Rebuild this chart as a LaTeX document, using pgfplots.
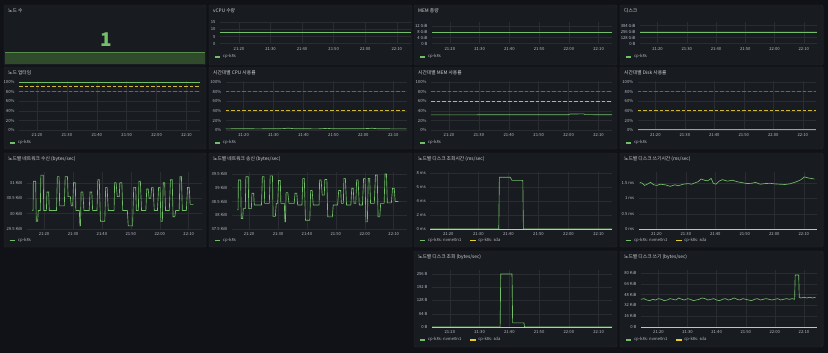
\documentclass[border=0pt]{standalone}
\usepackage{fontspec}
\setmainfont{Noto Sans CJK KR}
\usepackage{pgfplots}
\pgfplotsset{compat=1.18}

\definecolor{pagebg}{RGB}{17,18,23}
\definecolor{panelbg}{RGB}{24,27,31}
\definecolor{panelbd}{RGB}{38,40,46}
\definecolor{titlec}{RGB}{210,210,222}
\definecolor{tickc}{RGB}{185,186,200}
\definecolor{gridc}{RGB}{42,44,50}
\definecolor{gfgreen}{RGB}{115,191,105}
\definecolor{gfyellow}{RGB}{230,205,45}
\definecolor{thresred}{RGB}{205,55,78}
\definecolor{thresyel}{RGB}{205,185,55}
\definecolor{sparkfill}{RGB}{48,74,44}
\definecolor{sparkline}{RGB}{86,140,76}

\newcommand\tsz{\fontsize{4.8}{5.5}\selectfont}
\newcommand\ksz{\fontsize{4.2}{5}\selectfont}

\pgfplotsset{
 gp/.style={
  scale only axis, anchor=north west, clip=false,
  xmin=14, xmax=74.5,
  axis line style={draw=none},
  major tick length=0pt,
  grid=major,
  grid style={draw=gridc, line width=0.45bp},
  xtick={20,30,40,50,60,70},
  xticklabels={21:20,21:30,21:40,21:50,22:00,22:10},
  ticklabel style={font=\ksz, text=tickc},
  xticklabel style={anchor=center, yshift=-5bp},
  yticklabel style={anchor=east, xshift=-1bp},
  legend columns=-1,
  legend cell align=left,
  legend image code/.code={\draw[##1, line width=1.5bp, solid] (0bp,0bp) -- (5.5bp,0bp);},
  legend style={draw=none, fill=none, font=\ksz, text=tickc, at={(0,0)}, anchor=west,
    inner sep=0pt, outer sep=0pt, /tikz/every even column/.append style={column sep=6bp}},
 },
 dl/.style={color=gfgreen, line width=0.65bp},
 yl/.style={color=gfyellow, line width=0.7bp},
 thr/.style={draw=thresred, line width=1bp, dash pattern=on 3.5bp off 2bp},
 thy/.style={draw=thresyel, line width=1bp, dash pattern=on 3.5bp off 2bp},
 pct/.style={ymin=0, ymax=101.5, ytick={0,20,40,60,80,100},
   yticklabels={0\%,20\%,40\%,60\%,80\%,100\%}},
}

\newcommand\panel[5]{%
  \fill[panelbg, draw=panelbd, line width=0.5, rounded corners=1.5] (#1,#2) rectangle (#3,#4);
  \node[anchor=west, font=\tsz, text=titlec, inner sep=0pt] at (#1+4,#2+6) {#5};}

\begin{document}
\begin{tikzpicture}
\begin{scope}[x=1bp,y=-1bp]
\fill[pagebg] (0,0) rectangle (828,353);
\panel{4}{5}{206}{65}{노드 수}
\panel{209}{5}{412}{65}{vCPU 수량}
\panel{414}{5}{617}{65}{MEM 총량}
\panel{620}{5}{823}{65}{디스크}
\panel{4}{67}{206}{149}{노드 업타임}
\panel{209}{67}{412}{149}{시간대별 CPU 사용률}
\panel{414}{67}{617}{149}{시간대별 MEM 사용률}
\panel{620}{67}{823}{149}{시간대별 Disk 사용률}
\panel{4}{153}{206}{247}{노드별 네트워크 수신 (bytes/sec)}
\panel{209}{153}{412}{247}{노드별 네트워크 송신 (bytes/sec)}
\panel{414}{153}{617}{247}{노드별 디스크 조회시간 (ms/sec)}
\panel{620}{153}{823}{247}{노드별 디스크 쓰기시간 (ms/sec)}
\panel{414}{251}{617}{347}{노드별 디스크 조회 (bytes/sec)}
\panel{620}{251}{823}{347}{노드별 디스크 쓰기 (bytes/sec)}
\node[font=\fontsize{19}{20}\selectfont\bfseries, text=gfgreen] at (106,40) {1};
\end{scope}

% stat sparkline
\begin{axis}[at={(5bp,-51.7bp)}, anchor=north west, scale only axis, width=200bp, height=12.6bp,
  xmin=14, xmax=74.5, ymin=0, ymax=1.02, hide axis, clip=false]
\addplot[draw=none, fill=sparkfill] coordinates {(14,1)(74.5,1)} \closedcycle;
\addplot[color=sparkline, line width=0.7bp] coordinates {(14,1)(74.5,1)};
\end{axis}

% vCPU
\begin{axis}[gp, at={(220bp,-22.3bp)}, width=191bp, height=21.4bp, ymin=0, ymax=15,
  ytick={0,5,10,15}, yticklabels={0,5,10,15}, legend style={xshift=-6bp, yshift=-13.3bp}]
\addplot[dl] coordinates {(14,8)(74.5,8)};
\legend{cp-k8s}
\end{axis}

% MEM total
\begin{axis}[gp, at={(432bp,-22.3bp)}, width=180bp, height=21.4bp, ymin=0, ymax=14.3,
  ytick={0,4,8,12}, yticklabels={0 B,4 GiB,8 GiB,12 GiB}, legend style={xshift=-13bp, yshift=-13.3bp}]
\addplot[dl] coordinates {(14,7.7)(74.5,7.7)};
\legend{cp-k8s}
\end{axis}

% Disk total
\begin{axis}[gp, at={(640bp,-22.3bp)}, width=177bp, height=21.4bp, ymin=0, ymax=456,
  ytick={0,128,256,384}, yticklabels={0 B,128 GiB,256 GiB,384 GiB}, legend style={xshift=-15bp, yshift=-13.3bp}]
\addplot[dl] coordinates {(14,245)(74.5,245)};
\legend{cp-k8s}
\end{axis}

% uptime
\begin{axis}[gp, pct, at={(19bp,-81.3bp)}, width=181bp, height=49bp, legend style={xshift=-10bp, yshift=-12.7bp}]
\addplot[thr, forget plot] coordinates {(14,80)(74.5,80)};
\addplot[thy, forget plot] coordinates {(14,90)(74.5,90)};
\addplot[dl] coordinates {(14,99.6)(74.5,99.6)};
\legend{cp-k8s}
\end{axis}

% CPU usage
\begin{axis}[gp, pct, at={(225.7bp,-81.3bp)}, width=181bp, height=49bp, legend style={xshift=-11.7bp, yshift=-12.7bp}]
\addplot[thr, forget plot] coordinates {(14,80)(74.5,80)};
\addplot[thy, forget plot] coordinates {(14,40)(74.5,40)};
\addplot[dl] coordinates {(14,3)(20,3.2)(25,3)(33,3.4)(35,4.4)(37,3.2)(45,3)(48,4)(50,3.1)(60,3.3)(63,4.2)(65,3.1)(74.5,3)};
\legend{cp-k8s}
\end{axis}

% MEM usage
\begin{axis}[gp, pct, at={(431bp,-81.3bp)}, width=181bp, height=49bp, legend style={xshift=-12bp, yshift=-12.7bp}]
\addplot[thr, forget plot] coordinates {(14,80)(74.5,80)};
\addplot[thy, forget plot] coordinates {(14,60)(74.5,60)};
\addplot[dl] coordinates {(14,32)(40,32.1)(60,32.2)(60.5,33.8)(65,34)(65.5,32.4)(74.5,32.3)};
\legend{cp-k8s}
\end{axis}

% Disk usage
\begin{axis}[gp, pct, at={(637.7bp,-81.3bp)}, width=178.3bp, height=49bp, legend style={xshift=-12.7bp, yshift=-12.7bp}]
\addplot[thr, forget plot] coordinates {(14,80)(74.5,80)};
\addplot[thy, forget plot] coordinates {(14,40)(74.5,40)};
\addplot[dl] coordinates {(14,1.2)(74.5,1.2)};
\legend{cp-k8s}
\end{axis}

% network receive
\begin{axis}[gp, at={(26.7bp,-172bp)}, width=175bp, height=57bp, ymin=29.5, ymax=31.35,
  ytick={29.5,30,30.5,31}, yticklabels={29.5 KiB,30 KiB,30.5 KiB,31 KiB},
  legend style={xshift=-17.7bp, yshift=-11.7bp}]
\addplot[dl] coordinates {
(16.0,30.1)(16.2,30.1)(16.3,31.05)(17.1,31.05)(17.3,29.75)(17.8,29.75)(18.0,30.1)(18.7,30.1)
(18.9,31.25)(19.7,31.25)(19.9,30.1)(20.8,30.1)(21.0,30.7)(21.6,30.7)(21.8,30.1)(24.3,30.1)
(24.6,31.2)(25.2,31.2)(25.4,30.25)(27.0,30.25)(27.3,31.2)(28.1,31.2)(28.3,30.55)(29.1,30.55)
(29.4,30.25)(29.9,30.25)(30.2,31.0)(30.8,31.0)(31.0,30.1)(32.2,30.1)(32.4,29.6)(32.6,29.6)
(32.8,30.7)(33.4,30.7)(33.8,30.1)(35.6,30.1)(35.9,30.7)(36.5,30.7)(36.8,30.1)(38.3,30.1)
(38.6,31.1)(39.1,31.1)(39.5,29.75)(41.0,29.75)(41.3,30.85)(41.8,30.85)(42.2,30.1)(44.2,30.1)
(44.4,31.0)(44.9,31.0)(45.3,30.55)(46.0,30.55)(46.2,31.0)(46.9,31.0)(47.2,30.1)(48.8,30.1)
(49.1,29.6)(50.6,29.6)(51.0,30.85)(51.7,30.85)(51.9,30.1)(52.6,30.1)(52.8,31.05)(53.3,31.05)
(53.7,30.1)(55.2,30.1)(55.5,30.8)(56.0,30.8)(56.3,30.5)(56.9,30.5)(57.2,30.85)(57.7,30.85)
(58.1,30.1)(59.2,30.1)(59.6,30.85)(60.1,30.85)(60.4,29.75)(60.9,29.75)(61.2,31.0)(61.7,31.0)
(62.0,30.1)(63.3,30.1)(63.7,31.1)(64.3,31.1)(64.6,29.9)(65.2,29.9)(65.5,30.1)(66.7,30.1)
(67.0,31.2)(67.5,31.2)(67.8,30.1)(69.2,30.1)(69.6,30.85)(70.2,30.85)(70.5,30.3)(71.6,30.3)};
\legend{cp-k8s}
\end{axis}

% network send
\begin{axis}[gp, at={(231.7bp,-172bp)}, width=175bp, height=57bp, ymin=37.5, ymax=39.57,
  ytick={37.5,38,38.5,39,39.5}, yticklabels={37.5 KiB,38 KiB,38.5 KiB,39 KiB,39.5 KiB},
  legend style={xshift=-17.7bp, yshift=-11.7bp}]
\addplot[dl] coordinates {
(16.0,38.2)(16.2,38.2)(16.3,39.28)(17.1,39.28)(17.3,37.88)(17.8,37.88)(18.0,38.24)(18.7,38.24)
(18.9,39.4)(19.7,39.4)(19.9,38.24)(20.8,38.24)(21.0,38.8)(21.6,38.8)(21.8,38.37)(24.3,38.37)
(24.6,39.4)(25.2,39.4)(25.4,38.43)(27.0,38.43)(27.3,39.43)(28.1,39.43)(28.3,37.96)(29.1,37.96)
(29.4,38.43)(29.9,38.43)(30.2,39.26)(30.8,39.26)(31.0,38.43)(32.2,38.43)(32.4,37.76)(32.6,37.76)
(32.8,38.82)(33.4,38.82)(33.8,38.43)(35.6,38.43)(35.9,38.8)(36.5,38.8)(36.8,38.37)(38.3,38.37)
(38.6,39.34)(39.1,39.34)(39.5,37.82)(41.0,37.82)(41.3,38.9)(41.8,38.9)(42.2,38.37)(44.2,38.37)
(44.4,39.28)(44.9,39.28)(45.3,38.73)(46.0,38.73)(46.2,39.3)(46.9,39.3)(47.2,37.94)(48.8,37.94)
(49.1,38.37)(50.6,38.37)(51.0,38.9)(51.7,38.9)(51.9,38.43)(52.6,38.43)(52.8,39.34)(53.3,39.34)
(53.7,38.37)(55.2,38.37)(55.5,38.98)(56.0,38.98)(56.3,38.43)(56.9,38.43)(57.2,39.28)(57.7,39.28)
(58.1,38.37)(59.2,38.37)(59.6,39.34)(60.1,39.34)(60.4,37.76)(60.9,37.76)(61.2,39.34)(61.7,39.34)
(62.0,38.43)(63.3,38.43)(63.7,39.46)(64.3,39.46)(64.6,37.94)(65.2,37.94)(65.5,38.43)(66.7,38.43)
(67.0,39.5)(67.5,39.5)(67.8,38.45)(69.2,38.45)(69.6,38.98)(70.2,38.98)(70.5,38.5)(71.6,38.5)};
\legend{cp-k8s}
\end{axis}

% disk read time
\begin{axis}[gp, at={(430.3bp,-172bp)}, width=181.7bp, height=57bp, ymin=0, ymax=8.2,
  ytick={0,2,4,6,8}, yticklabels={0 ms,2 ms,4 ms,6 ms,8 ms},
  legend style={xshift=-11.3bp, yshift=-11.7bp}]
\addplot[dl] coordinates {(14,0)(36.8,0)(37.0,7.45)(40.6,7.45)(41.2,7.0)(44.8,7.0)(45.0,0)(74.5,0)};
\addplot[yl] coordinates {(14,0)(74.5,0)};
\legend{cp-k8s: nvme0n1,cp-k8s: sda}
\end{axis}

% disk write time
\begin{axis}[gp, at={(638.7bp,-172bp)}, width=178.3bp, height=57bp, ymin=0, ymax=1.87,
  ytick={0,0.5,1,1.5}, yticklabels={0 ms,0.5 ms,1 ms,1.5 ms},
  legend style={xshift=-13.7bp, yshift=-11.7bp}]
\addplot[dl] coordinates {
(14.4,1.53)(15.2,1.5)(16,1.43)(16.9,1.47)(18,1.53)(19.1,1.45)(20.2,1.43)(21.3,1.47)(23,1.45)
(24.7,1.4)(26.3,1.45)(27.4,1.42)(29.1,1.47)(30.8,1.49)(31.9,1.47)(34.1,1.55)(35.2,1.64)(36.3,1.6)
(37.4,1.58)(38.6,1.66)(39.3,1.5)(40.2,1.47)(41.3,1.57)(42.4,1.62)(44.1,1.57)(45.8,1.6)(47.4,1.55)
(49.1,1.52)(50.8,1.49)(52.4,1.5)(53.6,1.53)(55.2,1.47)(56.9,1.49)(58.6,1.5)(60.2,1.48)(61.9,1.47)
(63.6,1.46)(65.2,1.48)(66.9,1.53)(68,1.57)(69.1,1.62)(70.2,1.71)(71.3,1.68)(72.4,1.66)(73.6,1.64)};
\addplot[yl] coordinates {(14,0)(74.5,0)};
\legend{cp-k8s: nvme0n1,cp-k8s: sda}
\end{axis}

% disk read bytes
\begin{axis}[gp, at={(432bp,-270bp)}, width=180bp, height=57bp, ymin=0, ymax=275,
  ytick={0,64,128,192,256}, yticklabels={0 B,64 B,128 B,192 B,256 B},
  legend style={xshift=-13bp, yshift=-13bp}]
\addplot[dl] coordinates {(14,0)(36.9,0)(37.1,256)(40.9,256)(41.1,20)(44.9,20)(45.1,0)(74.5,0)};
\addplot[yl] coordinates {(14,0)(74.5,0)};
\legend{cp-k8s: nvme0n1,cp-k8s: sda}
\end{axis}

% disk write bytes
\begin{axis}[gp, at={(641bp,-270bp)}, width=176bp, height=57bp, ymin=0, ymax=84.4,
  ytick={0,16,32,48,64,80}, yticklabels={0 B,16 KiB,32 KiB,48 KiB,64 KiB,80 KiB},
  legend style={xshift=-16bp, yshift=-13bp}]
\addplot[dl] coordinates {
(14,41)(15,42)(16,40)(17,39)(18,41)(19,40)(20,42)(21,41)(22,39)(23,40)(24,42)(25,41)(26,40)(27,43)
(28,41)(29,40)(30,42)(31,41)(32,39)(33,40)(34,41)(35,43)(36,42)(37,40)(38,41)(39,42)(40,40)(41,39)
(42,41)(43,42)(44,40)(45,41)(46,43)(47,41)(48,40)(49,42)(50,41)(51,40)(52,39)(53,41)(54,42)(55,40)
(56,41)(57,42)(58,41)(59,40)(60,41)(61,42)(62,40)(63,41)(64,42)(65,41)(66,42)(66.8,41)(67.0,77)
(68.2,77)(68.4,44)(69,43)(70,44)(71,43)(72,44)(73,43)(74,44)};
\addplot[yl] coordinates {(14,0)(74.5,0)};
\legend{cp-k8s: nvme0n1,cp-k8s: sda}
\end{axis}

\pgfresetboundingbox
\path[use as bounding box] (0bp,0bp) rectangle (828bp,-353bp);
\end{tikzpicture}
\end{document}
